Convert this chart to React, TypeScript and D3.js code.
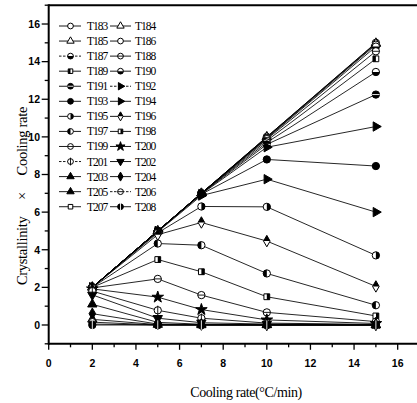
import React, { useEffect, useRef } from 'react';
import * as d3 from 'd3';

// cooling rates (°C/min)
const rates = [2, 5, 7, 10, 15];

const seriesNames = [
  'T183', 'T184', 'T185', 'T186', 'T187', 'T188', 'T189', 'T190', 'T191',
  'T192', 'T193', 'T194', 'T195', 'T196', 'T197', 'T198', 'T199', 'T200',
  'T201', 'T202', 'T203', 'T204', 'T205', 'T206', 'T207', 'T208',
];

// crystallinity x cooling rate, one row per series, one value per rate
const seriesValues: number[][] = [
  [2.0, 5.0, 7.0, 10.0, 15.0],
  [2.0, 5.0, 7.0, 10.0, 14.98],
  [2.0, 5.0, 7.0, 9.98, 14.95],
  [2.0, 5.0, 7.0, 9.95, 14.9],
  [2.0, 5.0, 7.0, 9.92, 14.8],
  [2.0, 5.0, 7.0, 9.88, 14.55],
  [2.0, 5.0, 7.0, 9.8, 14.15],
  [2.0, 5.0, 7.0, 9.7, 13.45],
  [2.0, 5.0, 6.98, 9.6, 12.25],
  [2.0, 5.0, 6.96, 9.45, 10.55],
  [2.0, 4.98, 6.95, 8.8, 8.45],
  [2.0, 4.95, 6.88, 7.75, 6.0],
  [2.0, 4.9, 6.3, 6.28, 3.7],
  [2.0, 4.8, 5.45, 4.46, 2.05],
  [2.0, 4.33, 4.24, 2.74, 1.05],
  [2.0, 3.48, 2.83, 1.5, 0.48],
  [1.97, 2.45, 1.59, 0.67, 0.18],
  [1.92, 1.48, 0.82, 0.27, 0.08],
  [1.8, 0.78, 0.36, 0.1, 0.03],
  [1.6, 0.36, 0.12, 0.05, 0.02],
  [1.1, 0.14, 0.04, 0.02, 0],
  [0.6, 0.05, 0.02, 0, 0],
  [0.3, 0.02, 0, 0, 0],
  [0.15, 0, 0, 0, 0],
  [0.05, 0, 0, 0, 0],
  [0, 0, 0, 0, 0],
];

// [shape, fill style]
const seriesMarkers: [string, string][] = [
  ['circle', 'open'], ['triangle', 'open'], ['triangle', 'open'], ['circle', 'open'],
  ['circle', 'bottom'], ['circle', 'hbar'], ['square', 'left'], ['circle', 'bottom'],
  ['circle', 'filledBar'], ['triRight', 'filled'], ['circle', 'filled'], ['triRight', 'filled'],
  ['circle', 'right'], ['diamond', 'top'], ['circle', 'left'], ['square', 'right'],
  ['circle', 'hbar'], ['star', 'filled'], ['circle', 'vbar'], ['triDown', 'filled'],
  ['triangle', 'filled'], ['diamond', 'filled'], ['triangle', 'filled'], ['circle', 'hbar'],
  ['square', 'open'], ['circle', 'vbarFilled'],
];
const dashedSeries = ['T187', 'T192', 'T201', 'T206'];

const xTicks = [0, 2, 4, 6, 8, 10, 12, 14, 16];
const yTicks = [0, 2, 4, 6, 8, 10, 12, 14, 16];

const W = 417;
const H = 403;

const shapePath = (shape: string, size: number) => {
  switch (shape) {
    case 'triangle':
    case 'triRight':
    case 'triDown':
      return d3.symbol(d3.symbolTriangle, size * 0.9)()!;
    case 'square':
      return d3.symbol(d3.symbolSquare, size * 0.8)()!;
    case 'diamond':
      return d3.symbol(d3.symbolDiamond, size * 0.9)()!;
    case 'star':
      return d3.symbol(d3.symbolStar, size)()!;
    default:
      return d3.symbol(d3.symbolCircle, size)()!;
  }
};

const App: React.FC = () => {
  const svgRef = useRef<SVGSVGElement>(null);

  useEffect(() => {
    document.body.style.margin = '0';
    if (!svgRef.current) return;
    const svg = d3.select(svgRef.current);
    svg.selectAll('*').remove();

    const x = d3.scaleLinear().domain([0, 17]).range([48.7, 419.5]);
    const y = d3.scaleLinear().domain([-1, 17]).range([343.8, 5.2]);

    // clip paths for half-filled markers
    const defs = svg.append('defs');
    const halves: Record<string, [number, number, number, number]> = {
      left: [-10, -10, 10, 20],
      right: [0, -10, 10, 20],
      top: [-10, -10, 20, 10],
      bottom: [-10, 0, 20, 10],
    };
    Object.entries(halves).forEach(([k, r]) => {
      defs.append('clipPath').attr('id', `half-${k}`)
        .append('rect').attr('x', r[0]).attr('y', r[1]).attr('width', r[2]).attr('height', r[3]);
    });

    const drawMarker = (g: d3.Selection<SVGGElement, unknown, null, undefined>, shape: string, style: string, size: number) => {
      const p = shapePath(shape, size);
      const rot = shape === 'triRight' ? 90 : shape === 'triDown' ? 180 : 0;
      const inner = g.append('g').attr('transform', `rotate(${rot})`);
      const filled = style === 'filled' || style === 'filledBar' || style === 'vbarFilled';
      inner.append('path').attr('d', p)
        .attr('fill', filled ? '#000' : '#fff')
        .attr('stroke', '#000').attr('stroke-width', 1);
      if (halves[style]) {
        inner.append('path').attr('d', p).attr('fill', '#000')
          .attr('clip-path', `url(#half-${style})`);
      }
      const r = Math.sqrt(size / Math.PI);
      if (style === 'hbar' || style === 'filledBar') {
        inner.append('line').attr('x1', -r).attr('x2', r).attr('y1', 0).attr('y2', 0)
          .attr('stroke', style === 'filledBar' ? '#fff' : '#000').attr('stroke-width', 0.9);
      }
      if (style === 'vbar' || style === 'vbarFilled') {
        inner.append('line').attr('x1', 0).attr('x2', 0).attr('y1', -r - 1).attr('y2', r + 1)
          .attr('stroke', style === 'vbarFilled' ? '#fff' : '#000').attr('stroke-width', 0.9);
      }
    };

    const plot = svg.append('g');

    // series lines and markers
    const line = d3.line<number>()
      .x((_, i) => x(rates[i]))
      .y(d => y(d));

    seriesValues.forEach(vals => {
      plot.append('path')
        .attr('d', line(vals))
        .attr('fill', 'none')
        .attr('stroke', '#000')
        .attr('stroke-width', 0.85);
    });
    seriesValues.forEach((vals, si) => {
      const [shape, style] = seriesMarkers[si];
      vals.forEach((v, i) => {
        const g = plot.append('g').attr('transform', `translate(${x(rates[i])},${y(v)})`);
        drawMarker(g, shape, style, 42);
      });
    });

    // frame
    const x0 = x(0);
    const yBottom = y(-1);
    const yTop = y(17);
    svg.append('line').attr('x1', x0).attr('x2', W).attr('y1', yTop).attr('y2', yTop)
      .attr('stroke', '#000').attr('stroke-width', 2);
    svg.append('line').attr('x1', x0).attr('x2', W).attr('y1', yBottom).attr('y2', yBottom)
      .attr('stroke', '#000').attr('stroke-width', 2);
    svg.append('line').attr('x1', x0).attr('x2', x0).attr('y1', yTop - 1).attr('y2', yBottom + 1)
      .attr('stroke', '#000').attr('stroke-width', 2);

    const tickFont = "'Liberation Sans', Arial, sans-serif";

    // x ticks
    d3.range(0, 18).forEach(t => {
      const major = t % 2 === 0;
      svg.append('line').attr('x1', x(t)).attr('x2', x(t))
        .attr('y1', yBottom).attr('y2', yBottom + (major ? 6 : 3.5))
        .attr('stroke', '#000').attr('stroke-width', 1.3);
    });
    xTicks.forEach(t => {
      svg.append('text').attr('x', x(t)).attr('y', 367)
        .attr('text-anchor', 'middle')
        .attr('font-family', tickFont).attr('font-weight', 'bold').attr('font-size', 10.5)
        .text(t);
    });

    // y ticks
    d3.range(-1, 18).forEach(t => {
      const major = t % 2 === 0;
      svg.append('line').attr('x1', x0).attr('x2', x0 - (major ? 7 : 4))
        .attr('y1', y(t)).attr('y2', y(t))
        .attr('stroke', '#000').attr('stroke-width', 1.3);
    });
    yTicks.forEach(t => {
      svg.append('text').attr('x', 40).attr('y', y(t) + 3.8)
        .attr('text-anchor', 'end')
        .attr('font-family', tickFont).attr('font-weight', 'bold').attr('font-size', 10.5)
        .text(t);
    });

    const serif = "'Liberation Serif', 'Times New Roman', serif";

    // axis titles
    svg.append('text').attr('x', 246).attr('y', 397)
      .attr('text-anchor', 'middle').attr('font-family', serif).attr('font-size', 14)
      .attr('letter-spacing', -0.4)
      .text('Cooling rate(°C/min)');
    svg.append('text')
      .attr('transform', 'translate(27,196) rotate(-90)')
      .attr('text-anchor', 'middle').attr('font-family', serif).attr('font-size', 14.5)
      .attr('letter-spacing', -0.3)
      .style('white-space', 'pre')
      .text('Crystallinity     ×     Cooling rate');

    // legend
    const legend = svg.append('g');
    const cols = [
      { lx1: 59, lx2: 81, mx: 70.5, tx: 87 },
      { lx1: 110, lx2: 131, mx: 120.5, tx: 135 },
    ];
    seriesNames.forEach((name, i) => {
      const col = cols[i % 2];
      const row = Math.floor(i / 2);
      const ly = 26 + row * 15.06;
      legend.append('line').attr('x1', col.lx1).attr('x2', col.lx2).attr('y1', ly).attr('y2', ly)
        .attr('stroke', '#000').attr('stroke-width', 0.9)
        .attr('stroke-dasharray', dashedSeries.includes(name) ? '2.5,1.5' : null);
      const g = legend.append('g').attr('transform', `translate(${col.mx},${ly})`);
      const [shape, style] = seriesMarkers[i];
      drawMarker(g, shape, style, 26);
      legend.append('text').attr('x', col.tx).attr('y', ly + 4)
        .attr('font-family', serif).attr('font-size', 11.5).attr('letter-spacing', -1)
        .text(name);
    });
  }, []);

  return (
    <svg ref={svgRef} width={W} height={H} style={{ display: 'block', background: '#fff' }} />
  );
};

export default App;
